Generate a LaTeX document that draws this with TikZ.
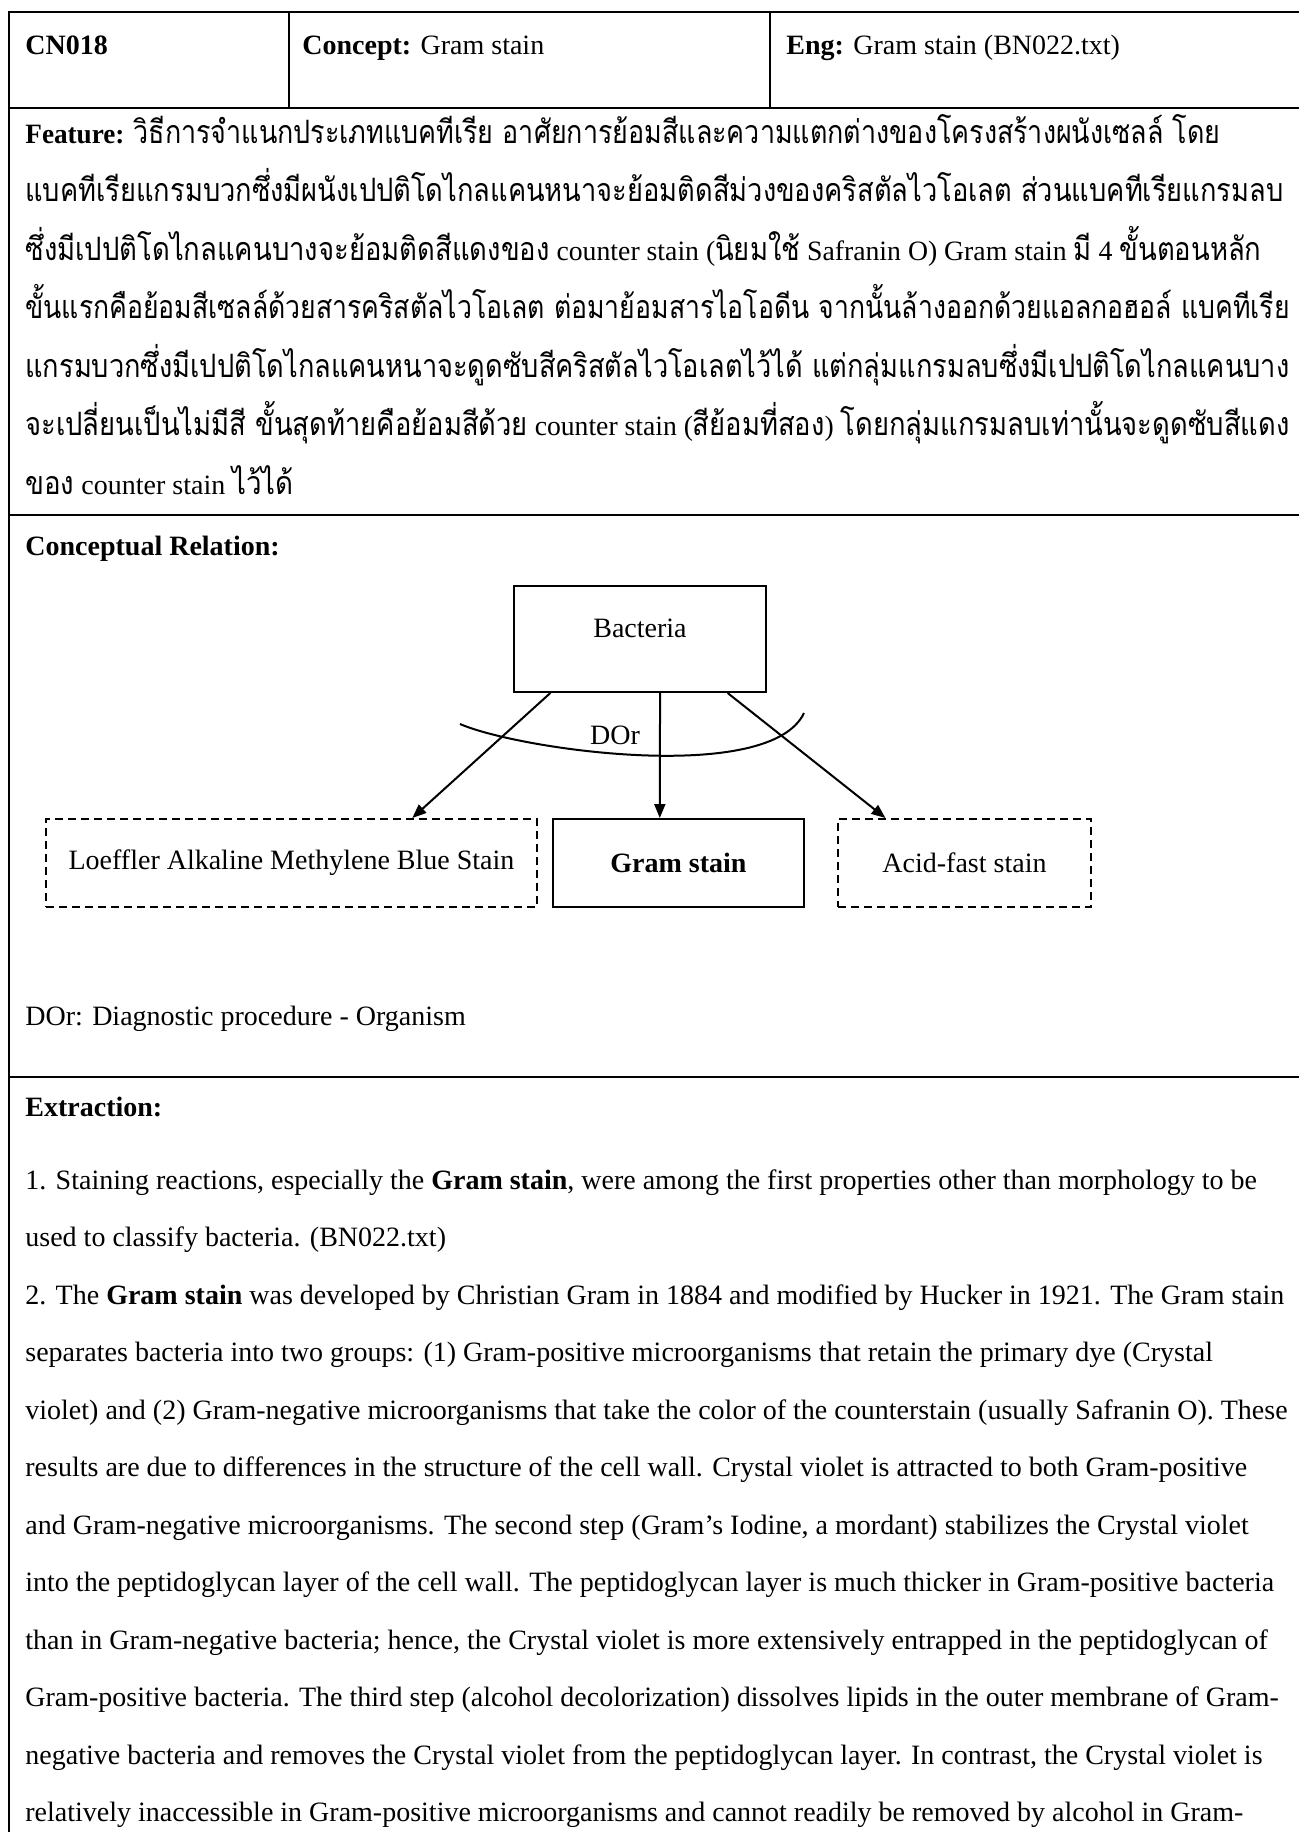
\documentclass[tikz,border=0pt]{standalone}
\usepackage{fontspec}
\usepackage{graphicx}
\setmainfont{Liberation Serif}
\newfontfamily\thaifont[Script=Thai,Scale=1.15,FakeStretch=0.86]{Loma}
\newcommand\tha[1]{{\thaifont #1}}
% set a line to a fixed width, keeping its height
\newcommand\fitline[2]{\resizebox{#1}{\height}{#2}}
\usetikzlibrary{arrows.meta,calc}

\tikzset{
  rule/.style={line width=1.25pt},
  txt/.style={anchor=base west, inner sep=0pt, font=\fontsize{14pt}{17pt}\selectfont},
  box/.style={draw, line width=1pt, inner sep=0pt, font=\fontsize{14pt}{17pt}\selectfont},
  dbox/.style={box, dash pattern=on 4pt off 2.5pt},
  link/.style={line width=1pt, -{Triangle[length=7pt,width=5.5pt]}},
  arcline/.style={line width=1pt}
}

\begin{document}
\begin{tikzpicture}[x=0.5pt,y=-0.5pt]
\useasboundingbox (0,0) rectangle (1299,1832);

% table rules
\draw[rule] (9,12) -- (1299,12);
\draw[rule] (9,108) -- (1299,108);
\draw[rule] (9,515) -- (1299,515);
\draw[rule] (9,1077) -- (1299,1077);
\draw[rule] (9,11) -- (9,1832);
\draw[rule] (289,12) -- (289,108);
\draw[rule] (770,12) -- (770,108);

% header row
\node[txt] (id) at (25,54) {\textbf{CN018}};
\node[txt] (concept) at (302,54) {\textbf{Concept:} Gram stain};
\node[txt] (eng) at (786,54) {\textbf{Eng:} Gram stain (BN022.txt)};

% feature paragraph
\node[txt] (f1) at (25,143) {\fitline{597.5pt}{\textbf{Feature:} \tha{วิธีการจำแนกประเภทแบคทีเรีย อาศัยการย้อมสีและความแตกต่างของโครงสร้างผนังเซลล์ โดย}}};
\node[txt] (f2) at (25,201.5) {\fitline{629pt}{\tha{แบคทีเรียแกรมบวกซึ่งมีผนังเปปติโดไกลแคนหนาจะย้อมติดสีม่วงของคริสตัลไวโอเลต ส่วนแบคทีเรียแกรมลบ}}};
\node[txt] (f3) at (25,260) {\fitline{618pt}{\tha{ซึ่งมีเปปติโดไกลแคนบางจะย้อมติดสีแดงของ} counter stain (\tha{นิยมใช้} Safranin O) Gram stain \tha{มี} 4 \tha{ขั้นตอนหลัก}}};
\node[txt] (f4) at (25,318.5) {\fitline{632pt}{\tha{ขั้นแรกคือย้อมสีเซลล์ด้วยสารคริสตัลไวโอเลต ต่อมาย้อมสารไอโอดีน จากนั้นล้างออกด้วยแอลกอฮอล์ แบคทีเรีย}}};
\node[txt] (f5) at (25,377) {\fitline{632pt}{\tha{แกรมบวกซึ่งมีเปปติโดไกลแคนหนาจะดูดซับสีคริสตัลไวโอเลตไว้ได้ แต่กลุ่มแกรมลบซึ่งมีเปปติโดไกลแคนบาง}}};
\node[txt] (f6) at (25,435.5) {\fitline{632pt}{\tha{จะเปลี่ยนเป็นไม่มีสี ขั้นสุดท้ายคือย้อมสีด้วย} counter stain (\tha{สีย้อมที่สอง}) \tha{โดยกลุ่มแกรมลบเท่านั้นจะดูดซับสีแดง}}};
\node[txt] (f7) at (25,494) {\tha{ของ} counter stain \tha{ไว้ได้}};

% conceptual relation
\node[txt] (crtitle) at (25,555) {\textbf{Conceptual Relation:}};

\node[box, minimum width=126pt, minimum height=53pt] (bact) at (640,639) {};
\node[anchor=base, inner sep=0pt, font=\fontsize{14pt}{17pt}\selectfont] (bactname) at (640,637) {Bacteria};

\node[dbox, minimum width=245.5pt, minimum height=44pt] (loeffler) at (291.5,863) {Loeffler Alkaline Methylene Blue Stain};
\node[box, minimum width=125.5pt, minimum height=44pt] (gram) at (678.5,863) {\textbf{Gram stain}};
\node[dbox, minimum width=126.5pt, minimum height=44pt] (acid) at (964.5,863) {Acid-fast stain};

\draw[link] ($(bact.south west)!0.147!(bact.south east)$) -- ($(loeffler.north west)!0.745!(loeffler.north east)$);
\draw[link] ($(bact.south west)!0.579!(bact.south east)$) -- ($(gram.north west)!0.426!(gram.north east)$);
\draw[link] ($(bact.south west)!0.845!(bact.south east)$) -- ($(acid.north west)!0.19!(acid.north east)$);

\draw[arcline] (460,724) .. controls (520,750) and (770,785) .. (804,713);
\node[anchor=center, inner sep=0pt, font=\fontsize{14pt}{17pt}\selectfont] (dor) at (615,735) {DOr};

\node[txt] (legend) at (25,1025) {DOr: Diagnostic procedure - Organism};

% extraction
\node[txt] (extitle) at (25,1116) {\textbf{Extraction:}};
\node[txt] (e1) at (25,1189) {1. Staining reactions, especially the \textbf{Gram stain}, were among the first properties other than morphology to be};
\node[txt] (e2) at (25,1246.5) {used to classify bacteria. (BN022.txt)};
\node[txt] (e3) at (25,1304) {2. The \textbf{Gram stain} was developed by Christian Gram in 1884 and modified by Hucker in 1921. The Gram stain};
\node[txt] (e4) at (25,1361.5) {separates bacteria into two groups: (1) Gram-positive microorganisms that retain the primary dye (Crystal};
\node[txt] (e5) at (25,1419) {violet) and (2) Gram-negative microorganisms that take the color of the counterstain (usually Safranin O). These};
\node[txt] (e6) at (25,1476.5) {results are due to differences in the structure of the cell wall. Crystal violet is attracted to both Gram-positive};
\node[txt] (e7) at (25,1534) {and Gram-negative microorganisms. The second step (Gram’s Iodine, a mordant) stabilizes the Crystal violet};
\node[txt] (e8) at (25,1591.5) {into the peptidoglycan layer of the cell wall. The peptidoglycan layer is much thicker in Gram-positive bacteria};
\node[txt] (e9) at (25,1649) {than in Gram-negative bacteria; hence, the Crystal violet is more extensively entrapped in the peptidoglycan of};
\node[txt] (e10) at (25,1706.5) {Gram-positive bacteria. The third step (alcohol decolorization) dissolves lipids in the outer membrane of Gram-};
\node[txt] (e11) at (25,1764) {negative bacteria and removes the Crystal violet from the peptidoglycan layer. In contrast, the Crystal violet is};
\node[txt] (e12) at (25,1821.5) {relatively inaccessible in Gram-positive microorganisms and cannot readily be removed by alcohol in Gram-};
\end{tikzpicture}
\end{document}
